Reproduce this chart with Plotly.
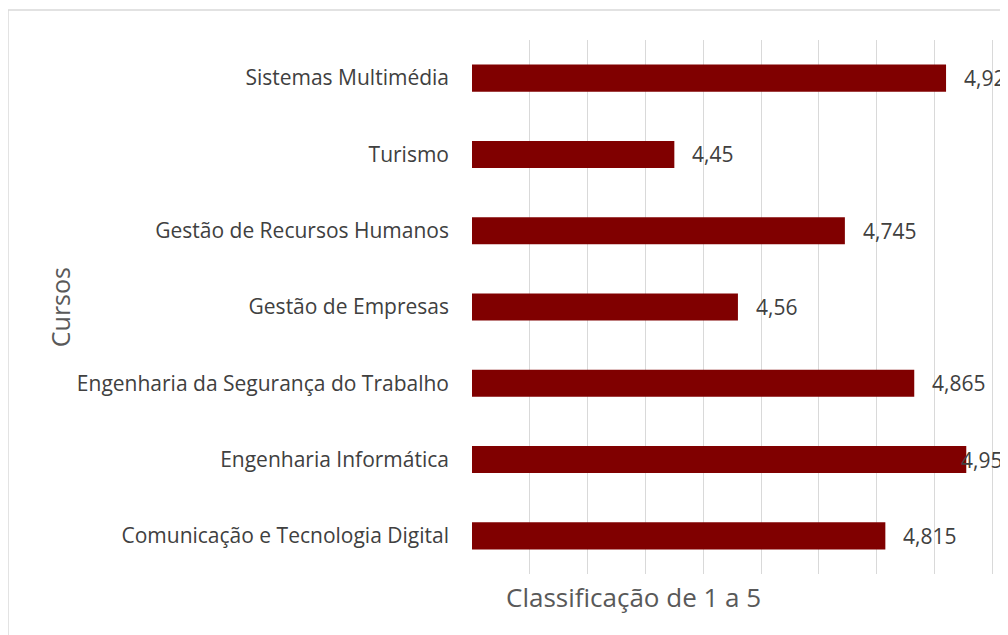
import plotly.graph_objects as go

# cursos, de baixo para cima (ordem do plotly)
cursos = [
    "Comunicação e Tecnologia Digital",
    "Engenharia Informática",
    "Engenharia da Segurança do Trabalho",
    "Gestão de Empresas",
    "Gestão de Recursos Humanos",
    "Turismo",
    "Sistemas Multimédia",
]
classificacao = [4.815, 4.955, 4.865, 4.56, 4.745, 4.45, 4.92]
rotulos = [f"{v:g}".replace(".", ",") for v in classificacao]

cor_barra = "#800000"
cor_texto = "#404040"
fonte = "Open Sans"

fig = go.Figure(go.Bar(
    x=classificacao,
    y=cursos,
    orientation="h",
    width=0.355,
    marker=dict(color=cor_barra, line=dict(width=0)),
    hoverinfo="skip",
))

# rotulos de dados a direita das barras
for v, c, t in zip(classificacao, cursos, rotulos):
    shift = 16
    if v > 4.95:  # o excel empurrou este para dentro da area do grafico
        shift = -7
    fig.add_annotation(x=v, y=c, text=t, showarrow=False, xanchor="left",
                       xshift=shift, font=dict(size=21, color=cor_texto, family=fonte))

# titulos dos eixos
fig.add_annotation(xref="paper", yref="paper", x=0.296, y=0, yshift=-23,
                   xanchor="center", yanchor="middle",
                   text="Classificação de 1 a 5", showarrow=False,
                   font=dict(size=26, color="#595959", family=fonte))
fig.add_annotation(xref="paper", yref="paper", x=-0.757, y=0.5, textangle=-90,
                   xanchor="center", yanchor="middle",
                   text="Cursos", showarrow=False,
                   font=dict(size=25, color="#595959", family=fonte))

# moldura do grafico
fig.add_shape(type="rect", xref="paper", yref="paper",
              x0=-0.853, x1=1.2, y0=-0.2, y1=1.056,
              line=dict(color="#d9d9d9", width=1.5), layer="below")

# a pagina tem 8px de margem no body, compensado aqui
fig.update_layout(
    width=1008, height=635,
    margin=dict(l=464, r=0, t=32, b=69),
    paper_bgcolor="white", plot_bgcolor="white",
    showlegend=False,
    font=dict(family=fonte, color=cor_texto),
    xaxis=dict(range=[4.1, 5.041], tick0=4.1, dtick=0.1, showgrid=True,
               gridcolor="#d9d9d9", gridwidth=1, zeroline=False,
               showticklabels=False, ticks="", showline=False, fixedrange=True),
    yaxis=dict(showgrid=False, zeroline=False, ticks="", showline=False,
               tickfont=dict(size=21, color=cor_texto, family=fonte),
               ticklabelstandoff=22, fixedrange=True),
)

fig.write_html("out.html")
